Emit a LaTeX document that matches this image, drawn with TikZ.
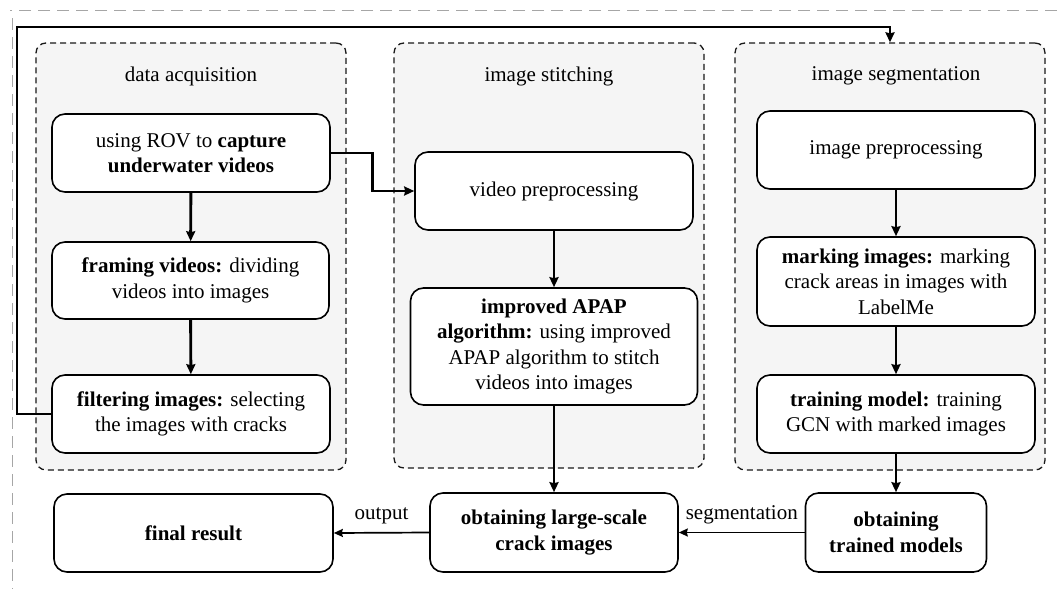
\documentclass[tikz,border=0pt]{standalone}
\usepackage{fontspec}
\setmainfont{Liberation Serif}
\usetikzlibrary{arrows.meta}
\tikzset{
  x=1pt,y=-1pt,
  group/.style={draw=black!90, fill=black!4, line width=1.3pt, dash pattern=on 6pt off 4pt, rounded corners=10pt, inner sep=0pt},
  box/.style={draw=black, fill=white, line width=1.6pt, rounded corners=13pt, align=center, inner sep=2pt, font=\fontsize{21}{25.5}\selectfont},
  title/.style={font=\fontsize{21}{25.5}\selectfont, inner sep=0pt},
  lab/.style={font=\fontsize{21}{25.5}\selectfont, inner sep=0pt},
  thick arrow/.style={line width=2.9pt, -{Stealth[length=10pt,width=9pt,inset=1pt]}},
  thin arrow/.style={line width=1.7pt, -{Stealth[length=9pt,width=8pt,inset=1pt]}},
  frame/.style={draw=black!35, line width=1pt, dash pattern=on 12pt off 7pt}
}
\begin{document}
\begin{tikzpicture}
\useasboundingbox (0,0) rectangle (1057,589);
\fill[white] (0,0) rectangle (1057,589);
% outer light frame
\draw[frame] (1057,10) -- (10,10);
\draw[frame] (12,18) -- (12,589);
% groups
\node[group, minimum width=310pt, minimum height=427pt] (g1) at (191,256.5) {};
\node[group, minimum width=310pt, minimum height=425pt] (g2) at (549,255.5) {};
\node[group, minimum width=310pt, minimum height=427pt] (g3) at (890,256.5) {};
\node[title] (t1) at (191,76) {data acquisition};
\node[title] (t2) at (549,76) {image stitching};
\node[title] (t3) at (896,76) {image segmentation};
% boxes
\node[box, minimum width=278pt, minimum height=78pt] (a1) at (191,153) {using ROV to \textbf{capture}\\\textbf{underwater videos}};
\node[box, minimum width=277pt, minimum height=77pt] (a2) at (190.5,280.5) {\textbf{framing videos:} dividing\\videos into images};
\node[box, minimum width=278pt, minimum height=78pt] (a3) at (191,414) {\textbf{filtering images:} selecting\\the images with cracks};
\node[box, minimum width=278pt, minimum height=78pt] (b1) at (554,191) {video preprocessing};
\node[box, minimum width=287pt, minimum height=117pt] (b2) at (554,346.5) {\textbf{improved APAP}\\\textbf{algorithm:} using improved\\APAP algorithm to stitch\\videos into images};
\node[box, minimum width=278pt, minimum height=78pt] (c1) at (896,150) {image preprocessing};
\node[box, minimum width=278pt, minimum height=89pt] (c2) at (896,281.5) {\textbf{marking images:} marking\\crack areas in images with\\LabelMe};
\node[box, minimum width=278pt, minimum height=78pt] (c3) at (896,414) {\textbf{training model:} training\\GCN with marked images};
\node[box, minimum width=279pt, minimum height=78pt] (d1) at (193.5,533) {\textbf{final result}};
\node[box, minimum width=248pt, minimum height=79pt] (d2) at (554,532.5) {\textbf{obtaining large-scale}\\\textbf{crack images}};
\node[box, minimum width=181pt, minimum height=79pt] (d3) at (896,532.5) {\textbf{obtaining}\\\textbf{trained models}};
% connectors
\draw[thick arrow] (a1) -- (a2);
\draw[thick arrow] (a2) -- (a3);
\draw[thick arrow] (b1) -- (b2);
\draw[thick arrow] (b2) -- (d2);
\draw[thick arrow] (c1) -- (c2);
\draw[thick arrow] (c2) -- (c3);
\draw[thick arrow] (c3.south -| d3) -- (d3.north);
\draw[thick arrow] (a1.east) -- ++(42,0) |- (b1.west);
\draw[thick arrow] (a3.west) -- (17,414) -- (17,27) -| (g3.north);
\draw[thin arrow] (d3.west) -- node[lab, above=8pt] (l2) {segmentation} (d2.east);
\draw[thin arrow] (d2.west) -- node[lab, above=8pt] (l1) {output} (d1.east);
\end{tikzpicture}
\end{document}
